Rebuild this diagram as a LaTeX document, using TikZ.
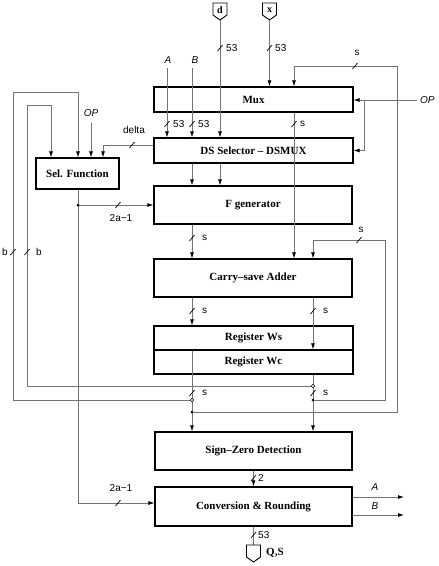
\documentclass[tikz,border=0pt]{standalone}
\usepackage{fontspec}
\setmainfont{Liberation Serif}
\newfontfamily\labfont{Liberation Sans}
\usetikzlibrary{arrows.meta}
\begin{document}
\begin{tikzpicture}[x=1pt,y=-1pt,
  box/.style={draw=black, line width=1.2pt, rectangle, inner sep=0pt, font=\fontsize{11}{12}\selectfont\bfseries},
  wire/.style={draw=black!55, line width=0.8pt},
  arr/.style={wire, -{Latex[length=6pt,width=4pt,color=black]}},
  lbl/.style={font=\labfont\fontsize{10}{11}\selectfont, inner sep=0pt},
  ilbl/.style={font=\labfont\itshape\fontsize{10}{11}\selectfont, inner sep=0pt},
  pentlbl/.style={font=\fontsize{10}{11}\selectfont\bfseries, inner sep=0pt},
  dotf/.style={circle, fill=black, inner sep=0pt, minimum size=3pt},
  doto/.style={circle, draw=black, fill=white, inner sep=0pt, minimum size=3.5pt, line width=0.6pt},
  slash/.pic={\draw[black, line width=0.7pt] (-2.5,3) -- (2.5,-3);},
  pent/.pic={\draw[black, line width=0.9pt] (0,0) -- (-7,-5) -- (-7,-17) -- (7,-17) -- (7,-5) -- cycle;},
]
\useasboundingbox (0,0) rectangle (439,566);

% boxes
\node[box, minimum width=199pt, minimum height=25pt] (mux) at (253.5,99.5) {Mux};
\node[box, minimum width=199pt, minimum height=25pt] (dss) at (253.5,150.5) {DS Selector -- DSMUX};
\node[box, minimum width=198pt, minimum height=38pt] (fgen) at (253,205) {F generator};
\node[box, minimum width=198pt, minimum height=38pt] (csa) at (253,278) {Carry--save Adder};
\node[box, minimum width=199pt, minimum height=24pt] (ws) at (253.5,338) {Register Ws};
\node[box, minimum width=199pt, minimum height=24pt] (wc) at (253.5,362) {Register Wc};
\node[box, minimum width=197pt, minimum height=38pt] (szd) at (253.5,451) {Sign--Zero Detection};
\node[box, minimum width=197pt, minimum height=39pt] (conv) at (253.5,506.5) {Conversion \& Rounding};
\node[box, minimum width=83pt, minimum height=31pt] (sel) at (77.5,173.5) {Sel. Function};

% top inputs d and x
\coordinate (dtip) at (220,20);
\path (dtip) pic{pent};
\node[pentlbl] (dlab) at (220,10) {d};
\draw[arr] (dtip) -- (dtip |- dss.north);
\path (220,48) pic{slash};
\node[lbl, anchor=west] (l53d) at (226,48) {53};

\coordinate (xtip) at (269.5,20);
\path (xtip) pic{pent};
\node[pentlbl] (xlab) at (269.5,10) {x};
\draw[arr] (xtip) -- (xtip |- mux.north);
\path (269.5,48) pic{slash};
\node[lbl, anchor=west] (l53x) at (275,48) {53};

% A and B
\node[ilbl] (Alab) at (168,60) {A};
\coordinate (Ain) at (167,68);
\draw[arr] (Ain) -- (Ain |- dss.north);
\path (167,124) pic{slash};
\node[lbl, anchor=west] (l53a) at (173,124) {53};

\node[ilbl] (Blab) at (195,60) {B};
\coordinate (Bin) at (192,68);
\draw[arr] (Bin) -- (Bin |- dss.north);
\path (192,124) pic{slash};
\node[lbl, anchor=west] (l53b) at (198,124) {53};

% Mux output to CSA
\draw[arr] (294,0 |- mux.south) -- (294,0 |- csa.north);
\path (294,124) pic{slash};
\node[lbl, anchor=west] (lsm) at (300,124) {s};

% OP right
\node[ilbl, anchor=west] (opr) at (420,100) {OP};
\coordinate (opin) at (417,100);
\draw[arr] (opin) -- (opin -| mux.east);
\coordinate (opb) at (364,100);
\draw[arr] (opb) -- (opb |- dss.east) -- (dss.east);

% DS selector to F generator
\draw[arr] (192,0 |- dss.south) -- (192,0 |- fgen.north);
\draw[arr] (220,0 |- dss.south) -- (220,0 |- fgen.north);

% F generator to CSA
\draw[arr] (192,0 |- fgen.south) -- (192,0 |- csa.north);
\path (192,238) pic{slash};
\node[lbl, anchor=west] (lsf) at (202,238) {s};

% CSA to registers
\draw[arr] (192,0 |- csa.south) -- (192,0 |- ws.north);
\path (192,311) pic{slash};
\node[lbl, anchor=west] (lsc1) at (202,311) {s};
\draw[arr] (313,0 |- csa.south) -- (313,0 |- wc.north);
\path (313,311) pic{slash};
\node[lbl, anchor=west] (lsc2) at (323,311) {s};

% registers to sign-zero detection
\draw[arr] (192,0 |- ws.south) -- (192,0 |- szd.north);
\path (192,393) pic{slash};
\node[lbl, anchor=west] (lsr1) at (202,393) {s};
\draw[arr] (313,0 |- wc.south) -- (313,0 |- szd.north);
\path (313,393) pic{slash};
\node[lbl, anchor=west] (lsr2) at (323,393) {s};

% junction points
\coordinate (cA) at (192,400);
\coordinate (cB) at (313,386);
\coordinate (j1) at (192,412);
\coordinate (j2) at (313,400);
\coordinate (j3) at (78,205);

% feedback to Mux
\coordinate (fbtop) at (294,66);
\draw[arr] (j1) -- (397,412) -- (397,66) -- (fbtop) -- (fbtop |- mux.north);
\path (355,66) pic{slash};
\node[lbl] (lsfb1) at (357,53) {s};

% feedback to CSA
\coordinate (fb2top) at (313,240);
\draw[arr] (j2) -- (385,400) -- (385,240) -- (fb2top) -- (fb2top |- csa.north);
\path (359,240) pic{slash};
\node[lbl] (lsfb2) at (361,230) {s};

% left loops to Sel. Function
\draw[arr] (cA) -- (13,400) -- (13,92) -- (78,92) -- (78,0 |- sel.north);
\draw[arr] (cB) -- (27,386) -- (27,105) -- (51,105) -- (51,0 |- sel.north);
\path (13,252) pic{slash};
\path (27,252) pic{slash};
\node[lbl] (lb1) at (5,252) {b};
\node[lbl] (lb2) at (39,252) {b};

% OP into Sel. Function
\node[ilbl] (opl) at (91,113) {OP};
\coordinate (opin2) at (91,123);
\draw[arr] (opin2) -- (opin2 |- sel.north);

% delta
\draw[arr] (dss.west |- 0,145) -- (103,145) -- (103,0 |- sel.north);
\path (132,145) pic{slash};
\node[lbl] (ldelta) at (134,130) {delta};

% Sel. Function outputs
\draw[arr] (78,0 |- sel.south) -- (78,503) -- (conv.west |- 0,503);
\draw[arr] (j3) -- (fgen.west |- j3);
\path (118,205) pic{slash};
\node[lbl] (l2a1) at (121,218) {2a−1};
\path (118,503) pic{slash};
\node[lbl] (l2a2) at (121,488) {2a−1};

% Sign-zero to conversion
\draw[arr] (253.5,0 |- szd.south) -- (253.5,0 |- conv.north);
\path (253.5,478) pic{slash};
\node[lbl, anchor=west] (l2) at (258,478) {2};

% conversion outputs
\coordinate (oa) at (404,497);
\coordinate (ob) at (404,515);
\draw[arr] (conv.east |- oa) -- (oa);
\draw[arr] (conv.east |- ob) -- (ob);
\node[ilbl] (lA) at (375,487) {A};
\node[ilbl] (lB) at (375,506) {B};

% output Q,S
\coordinate (qtip) at (253.5,562);
\coordinate (qtop) at (253.5,545);
\draw[wire] (conv.south) -- (qtop);
\path (qtip) pic{pent};
\path (253.5,535) pic{slash};
\node[lbl, anchor=west] (l53q) at (258,535) {53};
\node[pentlbl, anchor=west, font=\fontsize{11}{12}\selectfont\bfseries] (lqs) at (266,553) {Q,S};

% dots on top
\node[doto] (oA) at (cA) {};
\node[doto] (oB) at (cB) {};
\node[dotf] (dj1) at (j1) {};
\node[dotf] (dj2) at (j2) {};
\node[dotf] (dj3) at (j3) {};
\end{tikzpicture}
\end{document}
